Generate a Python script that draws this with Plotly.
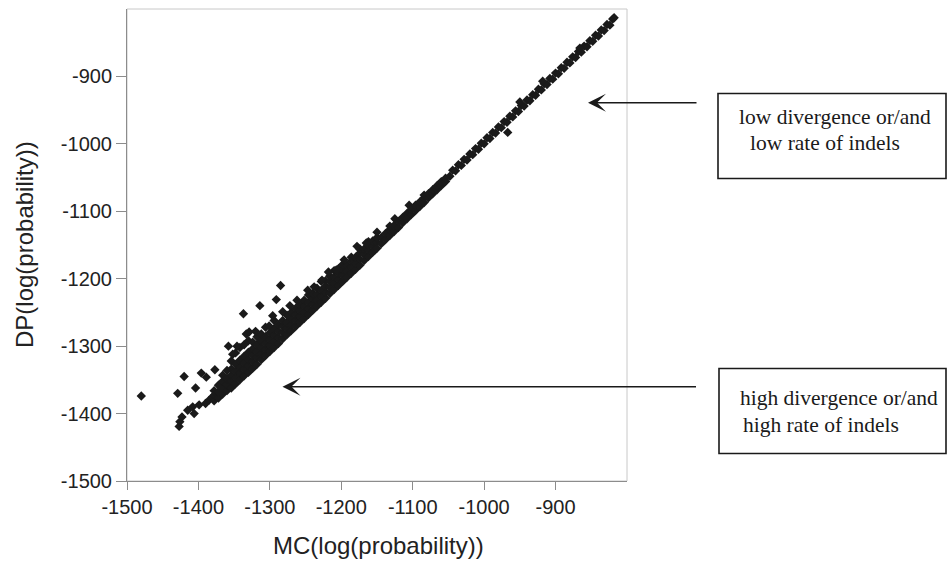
import plotly.graph_objects as go

# ---------------- data ----------------
# sparse lower-left tip of the cloud
mc_tip = [-1427, -1426, -1423, -1415, -1408, -1406, -1399, -1390, -1385, -1380]
dp_tip = [-1419, -1412, -1405, -1395, -1390, -1400, -1387, -1385, -1380, -1375]

# broad band (MC -1378 .. -1150)
mc_band = [
    -1378, -1378, -1378,
    -1372, -1372, -1372,
    -1366, -1366, -1366, -1366,
    -1360, -1360, -1360, -1360,
    -1354, -1354, -1354, -1354, -1354,
    -1348, -1348, -1348, -1348, -1348,
    -1342, -1342, -1342, -1342, -1342,
    -1336, -1336, -1336, -1336, -1336,
    -1330, -1330, -1330, -1330, -1330,
    -1324, -1324, -1324, -1324, -1324,
    -1318, -1318, -1318, -1318, -1318,
    -1312, -1312, -1312, -1312, -1312,
    -1306, -1306, -1306, -1306,
    -1300, -1300, -1300, -1300,
    -1294, -1294, -1294, -1294, -1294,
    -1288, -1288, -1288, -1288,
    -1282, -1282, -1282, -1282,
    -1276, -1276, -1276, -1276,
    -1270, -1270, -1270, -1270,
    -1264, -1264, -1264, -1264,
    -1258, -1258, -1258, -1258,
    -1252, -1252, -1252, -1252,
    -1246, -1246, -1246, -1246,
    -1240, -1240, -1240, -1240,
    -1234, -1234, -1234, -1234,
    -1228, -1228, -1228, -1228,
    -1222, -1222, -1222, -1222,
    -1216, -1216, -1216, -1216,
    -1210, -1210, -1210, -1210,
    -1204, -1204, -1204, -1204,
    -1198, -1198, -1198, -1198,
    -1192, -1192, -1192,
    -1186, -1186, -1186, -1186,
    -1180, -1180, -1180,
    -1174, -1174, -1174, -1174,
    -1168, -1168, -1168,
    -1162, -1162, -1162, -1162,
    -1156, -1156, -1156,
    -1150, -1150, -1150,
]
dp_band = [
    -1381, -1373, -1366,
    -1377, -1368, -1358,
    -1371, -1362, -1352, -1343,
    -1366, -1357, -1348, -1336,
    -1362, -1352, -1343, -1334, -1322,
    -1356, -1346, -1337, -1327, -1310,
    -1350, -1340, -1331, -1321, -1302,
    -1344, -1334, -1325, -1315, -1298,
    -1339, -1329, -1320, -1309, -1292,
    -1333, -1323, -1314, -1304, -1294,
    -1327, -1317, -1308, -1298, -1286,
    -1320, -1311, -1302, -1292, -1282,
    -1314, -1305, -1296, -1286,
    -1308, -1299, -1290, -1280,
    -1302, -1293, -1284, -1274, -1262,
    -1296, -1287, -1278, -1268,
    -1289, -1280, -1271, -1262,
    -1283, -1274, -1265, -1254,
    -1277, -1268, -1259, -1250,
    -1271, -1262, -1253, -1244,
    -1265, -1256, -1247, -1238,
    -1259, -1250, -1241, -1232,
    -1253, -1244, -1235, -1224,
    -1247, -1238, -1229, -1222,
    -1241, -1232, -1223, -1214,
    -1235, -1226, -1217, -1204,
    -1229, -1220, -1211, -1203,
    -1222, -1213, -1204, -1196,
    -1216, -1207, -1198, -1188,
    -1210, -1201, -1192, -1185,
    -1204, -1195, -1186, -1179,
    -1198, -1189, -1180,
    -1192, -1183, -1174, -1168,
    -1186, -1177, -1168,
    -1180, -1171, -1162, -1156,
    -1173, -1164, -1156,
    -1167, -1158, -1150, -1145,
    -1161, -1152, -1144,
    -1155, -1146, -1139,
]

# scattered points along the upper edge of the band
mc_edge = [-1352, -1346, -1320, -1306, -1296, -1272, -1262, -1238, -1218,
           -1196, -1178, -1150, -1125, -1105]
dp_edge = [-1312, -1300, -1278, -1272, -1255, -1240, -1232, -1212, -1190,
           -1172, -1152, -1131, -1111, -1091]

# narrowing band (MC -1144 .. -1054)
mc_mid = [-1144, -1144, -1138, -1138, -1132, -1132, -1132, -1126, -1126,
          -1120, -1120, -1114, -1114, -1108, -1108, -1102, -1102, -1096, -1096,
          -1090, -1090, -1084, -1084, -1084, -1078, -1078, -1072, -1072,
          -1066, -1066, -1060, -1060, -1054, -1054]
dp_mid = [-1148, -1139, -1142, -1133, -1136, -1127, -1122, -1130, -1121,
          -1124, -1115, -1117, -1109, -1111, -1103, -1105, -1097, -1099, -1091,
          -1093, -1086, -1087, -1080, -1076, -1080, -1074, -1074, -1068,
          -1068, -1062, -1062, -1056, -1056, -1051]

# thin upper part of the cloud (MC -1048 .. -818)
mc_line = [-1048, -1044, -1040, -1036, -1032, -1028, -1024, -1020, -1016, -1012,
           -1008, -1004, -1000, -996, -992, -988, -984, -980, -976, -972,
           -968, -964, -960, -956, -952, -948, -944, -940, -936, -932,
           -928, -924, -920, -916, -912, -908, -904, -900, -896, -892,
           -888, -884, -880, -876, -872, -868, -864, -860, -856, -852,
           -848, -844, -840, -836, -832, -828, -824, -820, -818]
dp_line = [-1048, -1039, -1040, -1031, -1032, -1023, -1024, -1015, -1016, -1007,
           -1008, -999, -1000, -991, -992, -983, -984, -975, -976, -967,
           -968, -959, -960, -951, -952, -943, -944, -935, -936, -927,
           -928, -919, -920, -911, -912, -903, -904, -895, -896, -887,
           -888, -879, -880, -871, -872, -863, -864, -855, -856, -847,
           -848, -839, -840, -831, -832, -823, -824, -815, -813]

# isolated points
mc_out = [-1480, -1429, -1420, -1404, -1396, -1389, -1377, -1337, -1333, -1329,
          -1314, -1301, -1291, -1285, -1282, -1247, -1227, -1207, -1165, -1358,
          -950, -918, -866, -967]
dp_out = [-1374, -1370, -1345, -1362, -1340, -1346, -1335, -1252, -1282, -1279,
          -1240, -1270, -1231, -1210, -1249, -1217, -1202, -1187, -1147, -1300,
          -938, -907, -858, -983]

tick_vals = [-1500, -1400, -1300, -1200, -1100, -1000, -900]
tick_text = ["-1500", "-1400", "-1300", "-1200", "-1100", "-1000", "-900"]
axis_range = [-1500, -800]

x_title = "MC(log(probability))"
y_title = "DP(log(probability))"
note_low = ["low divergence or/and", "low rate of indels"]
note_high = ["high divergence or/and", "high rate of indels"]

# ---------------- layout geometry (pixels) ----------------
W, H = 949, 568
L, R, T, B = 127, 322, 9, 87
PW, PH = W - L - R, H - T - B


def px(xp):
    return (xp - L) / PW


def py(yp):
    return (H - B - yp) / PH


mc_all = mc_tip + mc_band + mc_edge + mc_mid + mc_line + mc_out
dp_all = dp_tip + dp_band + dp_edge + dp_mid + dp_line + dp_out

fig = go.Figure()
fig.add_trace(go.Scatter(
    x=mc_all, y=dp_all, mode="markers",
    marker=dict(symbol="diamond", size=7.2, color="#1a1a1a", line=dict(width=0)),
    showlegend=False, hoverinfo="skip", cliponaxis=False,
))

axis_common = dict(
    range=axis_range, tickmode="array", tickvals=tick_vals, ticktext=tick_text,
    showgrid=False, zeroline=False, showline=True, linecolor="#8c8c8c", linewidth=1,
    ticks="outside", tickcolor="#8c8c8c", tickwidth=1,
    tickfont=dict(family="Liberation Sans, Arial", size=20, color="#222222"),
    fixedrange=True,
)
fig.update_xaxes(**axis_common, ticklen=8)
fig.update_yaxes(**axis_common, ticklen=10)

shapes = [
    # light plot-area border (top / right)
    dict(type="rect", xref="paper", yref="paper", x0=0, x1=1, y0=0, y1=1,
         line=dict(color="#c8c8c8", width=1), layer="below"),
    # note boxes
    dict(type="rect", xref="paper", yref="paper",
         x0=px(718), x1=px(946), y0=py(178.5), y1=py(93.5),
         line=dict(color="#1a1a1a", width=1.6)),
    dict(type="rect", xref="paper", yref="paper",
         x0=px(719), x1=px(946), y0=py(453.5), y1=py(368.5),
         line=dict(color="#1a1a1a", width=1.6)),
]

serif = dict(family="Liberation Serif, Times New Roman", size=21.5, color="#1a1a1a")
sans_title = dict(family="Liberation Sans, Arial", size=24, color="#222222")

annotations = [
    # axis titles
    dict(text=x_title, xref="paper", yref="paper", x=px(378), y=py(545),
         xanchor="center", yanchor="middle", showarrow=False, font=sans_title),
    dict(text=y_title, xref="paper", yref="paper", x=px(24), y=py(245),
         xanchor="center", yanchor="middle", showarrow=False, font=sans_title,
         textangle=-90),
    # arrows
    dict(text="", xref="paper", yref="paper", x=px(588), y=py(102.7),
         ax=110, ay=0, showarrow=True, arrowhead=3, arrowsize=2.0,
         arrowwidth=1.5, arrowcolor="#1a1a1a", standoff=0),
    dict(text="", xref="paper", yref="paper", x=px(282.5), y=py(386.7),
         ax=415, ay=0, showarrow=True, arrowhead=3, arrowsize=2.0,
         arrowwidth=1.5, arrowcolor="#1a1a1a", standoff=0),
]

for txt, xl, yb in [(note_low[0], 738, 124.3), (note_low[1], 749, 150),
                    (note_high[0], 739, 405), (note_high[1], 742, 432)]:
    annotations.append(dict(text=txt, xref="paper", yref="paper",
                            x=px(xl), y=py(yb - 7), xanchor="left", yanchor="middle",
                            showarrow=False, font=serif, borderpad=0))

fig.update_layout(
    width=W, height=H,
    margin=dict(l=L, r=R, t=T, b=B),
    paper_bgcolor="white", plot_bgcolor="white",
    shapes=shapes, annotations=annotations,
    showlegend=False,
)

fig.write_html("out.html", include_plotlyjs=True, config={"displayModeBar": False})
